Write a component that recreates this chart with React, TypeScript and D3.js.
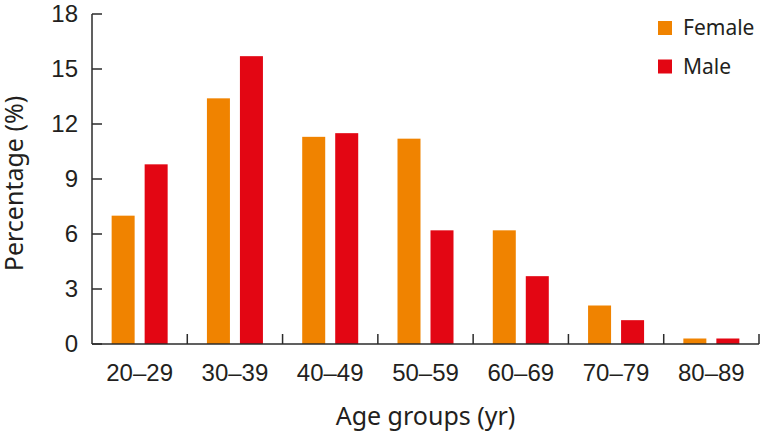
import React from "react";
import * as d3 from "d3";

const categories = ["20–29", "30–39", "40–49", "50–59", "60–69", "70–79", "80–89"];
const series = ["Female", "Male"];
const femaleValues = [7.0, 13.4, 11.3, 11.2, 6.2, 2.1, 0.3];
const maleValues = [9.8, 15.7, 11.5, 6.2, 3.7, 1.3, 0.3];
const yTicks = [0, 3, 6, 9, 12, 15, 18];
const colors = ["#F08300", "#E30613"];

const W = 762;
const H = 435;
const left = 92;
const right = 759;
const top = 14;
const bottom = 344;

export default function App() {
  const x = d3.scaleBand<string>().domain(categories).range([left, right]).paddingInner(0).paddingOuter(0);
  const bw = x.bandwidth();
  const xs = d3.scaleBand<string>().domain(series).range([0, bw]).paddingInner(10 / 33).paddingOuter(0.595);
  const y = d3.scaleLinear().domain([0, 18]).range([bottom, top]);
  const values = [femaleValues, maleValues];
  const axisColor = "#2b2b2b";
  const textColor = "#231f20";
  const boundaries = categories.map((c) => (x(c) as number) + bw);

  return (
    <svg width={W} height={H} style={{ position: "absolute", left: 0, top: 0, background: "#fff" }}>
      {series.map((s, si) =>
        categories.map((c, ci) => (
          <rect
            key={s + c}
            x={(x(c) as number) + (xs(s) as number)}
            y={y(values[si][ci])}
            width={xs.bandwidth()}
            height={bottom - y(values[si][ci])}
            fill={colors[si]}
          />
        ))
      )}
      {/* y axis */}
      <line x1={left} x2={left} y1={top} y2={bottom} stroke={axisColor} strokeWidth={1.5} />
      {yTicks.map((t) => (
        <g key={t}>
          <line x1={left} x2={left + 10} y1={y(t)} y2={y(t)} stroke={axisColor} strokeWidth={1.5} />
          <text
            x={left - 14}
            y={y(t)}
            dy="0.35em"
            textAnchor="end"
            fontFamily="Liberation Sans, Arial, sans-serif"
            fontSize={24}
            fill={textColor}
          >
            {t}
          </text>
        </g>
      ))}
      {/* x axis */}
      <line x1={left} x2={right} y1={bottom} y2={bottom} stroke={axisColor} strokeWidth={1.5} />
      {boundaries.map((b, i) => (
        <line key={i} x1={b} x2={b} y1={bottom} y2={bottom - 10} stroke={axisColor} strokeWidth={1.5} />
      ))}
      {categories.map((c) => (
        <text
          key={c}
          x={(x(c) as number) + bw / 2}
          y={381}
          textAnchor="middle"
          fontFamily="Liberation Sans, Arial, sans-serif"
          fontSize={24}
          fill={textColor}
        >
          {c}
        </text>
      ))}
      <text
        x={(left + right) / 2}
        y={425}
        textAnchor="middle"
        fontFamily="Noto Sans, sans-serif"
        fontSize={25}
        fill={textColor}
      >
        Age groups (yr)
      </text>
      <text
        transform={`translate(23, ${(95 + 272) / 2}) rotate(-90)`}
        textAnchor="middle"
        fontFamily="Noto Sans, sans-serif"
        fontSize={25}
        fill={textColor}
      >
        Percentage (%)
      </text>
      {/* legend */}
      {series.map((s, i) => (
        <g key={s} transform={`translate(658, ${21 + i * 38.5})`}>
          <rect x={0} y={0} width={14} height={14} fill={colors[i]} />
          <text x={25} y={14} fontFamily="Noto Sans, sans-serif" fontSize={21} fill={textColor}>
            {s}
          </text>
        </g>
      ))}
    </svg>
  );
}
